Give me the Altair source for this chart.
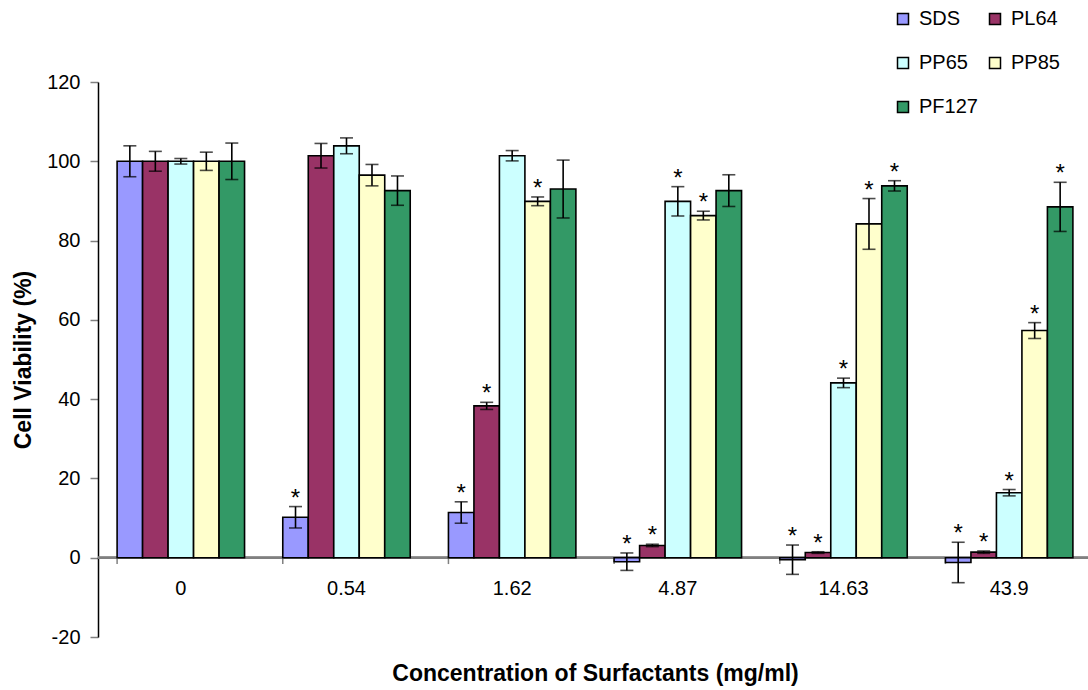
import altair as alt
import pandas as pd

# Surfactant concentrations (mg/ml) and the surfactants tested
concs = ["0", "0.54", "1.62", "4.87", "14.63", "43.9"]
series = ["SDS", "PL64", "PP65", "PP85", "PF127"]
colors = ["#9999FF", "#993366", "#CCFFFF", "#FFFFCC", "#339966"]

# Mean cell viability (%) per surfactant, one value per concentration
sds_mean = [100, 10.2, 11.4, -1.0, -0.5, -1.2]
pl64_mean = [100, 101.4, 38.3, 3.1, 1.3, 1.4]
pp65_mean = [100, 103.9, 101.4, 89.9, 44.1, 16.4]
pp85_mean = [100, 96.5, 89.9, 86.3, 84.2, 57.3]
pf127_mean = [100, 92.6, 93.0, 92.6, 93.8, 88.5]

# Error (±) per bar
sds_err = [3.9, 2.7, 2.7, 2.2, 3.7, 5.1]
pl64_err = [2.5, 3.1, 0.9, 0.3, 0.2, 0.3]
pp65_err = [0.7, 2.0, 1.3, 3.7, 1.2, 0.8]
pp85_err = [2.3, 2.7, 1.1, 1.1, 6.4, 2.0]
pf127_err = [4.6, 3.7, 7.3, 4.0, 1.3, 6.2]

# Significance flags (drawn as asterisks)
sds_sig = [0, 1, 1, 1, 1, 1]
pl64_sig = [0, 0, 1, 1, 1, 1]
pp65_sig = [0, 0, 0, 1, 1, 1]
pp85_sig = [0, 0, 1, 1, 1, 1]
pf127_sig = [0, 0, 0, 0, 1, 1]

means = [sds_mean, pl64_mean, pp65_mean, pp85_mean, pf127_mean]
errs = [sds_err, pl64_err, pp65_err, pp85_err, pf127_err]
sigs = [sds_sig, pl64_sig, pp65_sig, pp85_sig, pf127_sig]

rows = []
for s, m, e, g in zip(series, means, errs, sigs):
    for c, v, d, f in zip(concs, m, e, g):
        rows.append({"conc": c, "series": s, "value": v,
                     "lo": v - d, "hi": v + d, "star": "*" if f else ""})
df = pd.DataFrame(rows)
conc_df = pd.DataFrame({"conc": concs})

FONT = "Liberation Sans"
PLOT_W, PLOT_H = 990, 555

y_scale = alt.Scale(domain=[-20, 120], nice=False, zero=False)
x_scale = alt.Scale(domain=concs, paddingInner=0.2307, paddingOuter=0.1153,
                    range=[0, 994])

x_axis = alt.Axis(
    title="Concentration of Surfactants (mg/ml)", labelAngle=0,
    ticks=False, tickSize=0, domain=False, offset=-79.3,
    labelPadding=21, labelFontSize=20, labelFont=FONT, labelColor="black",
    titleFontSize=23, titleFont=FONT, titleFontWeight="bold",
    titleColor="black", titlePadding=64,
)
y_axis = alt.Axis(
    title="Cell Viability (%)", values=[-20, 0, 20, 40, 60, 80, 100, 120],
    labelExpr="'' + datum.value",
    grid=False, tickColor="#808080", tickSize=8, tickWidth=1.5,
    domainColor="black", domainWidth=1.5,
    labelFontSize=20, labelFont=FONT, labelColor="black", labelPadding=10,
    titleFontSize=23, titleFont=FONT, titleFontWeight="bold",
    titleColor="black", titlePadding=11,
)

X = alt.X("conc:N", sort=concs, scale=x_scale, axis=x_axis)
XO = alt.XOffset("series:N", sort=series,
                 scale=alt.Scale(domain=series, paddingInner=0, paddingOuter=0))

# Gray baseline at zero across the plot
zero_line = alt.Chart(conc_df).mark_rule(color="#808080", strokeWidth=2).encode(
    y=alt.Y(datum=0, scale=y_scale, axis=y_axis),
    x=alt.value(0), x2=alt.value(994),
)

# Small category separator ticks hanging below the zero line
sep_ticks = alt.Chart(conc_df).mark_rule(color="#808080", strokeWidth=1.5).encode(
    x=alt.X("conc:N", sort=concs, scale=x_scale, axis=x_axis, bandPosition=0),
    y=alt.Y(datum=0, scale=y_scale, axis=y_axis),
    y2=alt.datum(-1.6),
)

bars = alt.Chart(df).mark_bar(stroke="black", strokeWidth=1.6).encode(
    x=X, xOffset=XO,
    y=alt.Y("value:Q", scale=y_scale, axis=y_axis),
    color=alt.Color(
        "series:N", sort=series,
        scale=alt.Scale(domain=series, range=colors),
        legend=alt.Legend(
            title=None, orient="none", legendX=795, legendY=-73,
            columns=2, direction="horizontal",
            symbolType="square", symbolSize=121,
            symbolStrokeColor="black", symbolStrokeWidth=1.5,
            labelFontSize=20, labelFont=FONT, labelColor="black",
            labelOffset=6, columnPadding=7, rowPadding=24, padding=0,
        ),
    ),
)

err_lines = alt.Chart(df).mark_rule(color="black", strokeWidth=1.6).encode(
    x=X, xOffset=XO,
    y=alt.Y("lo:Q", scale=y_scale, axis=y_axis), y2="hi:Q",
)
cap_hi = alt.Chart(df).mark_tick(color="black", thickness=1.6, size=13).encode(
    x=X, xOffset=XO, y=alt.Y("hi:Q", scale=y_scale, axis=y_axis),
)
cap_lo = alt.Chart(df).mark_tick(color="black", thickness=1.6, size=13).encode(
    x=X, xOffset=XO, y=alt.Y("lo:Q", scale=y_scale, axis=y_axis),
)

stars = alt.Chart(df).transform_filter(alt.datum.star != "").mark_text(
    fontSize=24, font=FONT, color="black", dy=-1, baseline="alphabetic",
).encode(
    x=X, xOffset=XO,
    y=alt.Y("hi:Q", scale=y_scale, axis=y_axis),
    text="star:N",
)

chart = alt.layer(zero_line, sep_ticks, bars, err_lines, cap_hi, cap_lo, stars).properties(
    width=PLOT_W, height=PLOT_H,
    autosize=alt.AutoSizeParams(type="none"),
    padding={"left": 98, "top": 82, "right": 0, "bottom": 53},
    background="white",
).configure_view(stroke=None)

chart.save("out.html", embed_options={"renderer": "svg", "actions": False})
